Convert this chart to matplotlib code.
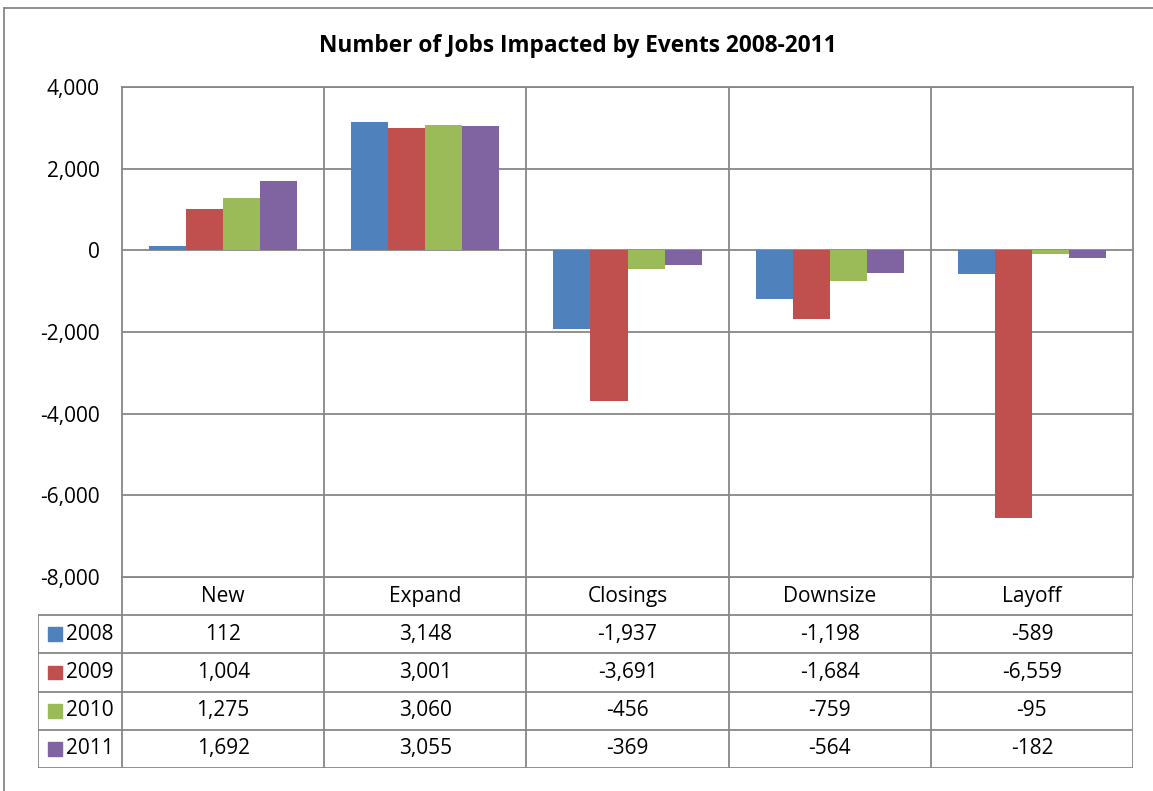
import matplotlib.pyplot as plt
from matplotlib.patches import Rectangle
from matplotlib.lines import Line2D

categories = ['New', 'Expand', 'Closings', 'Downsize', 'Layoff']
years = ['2008', '2009', '2010', '2011']
v2008 = [112, 3148, -1937, -1198, -589]
v2009 = [1004, 3001, -3691, -1684, -6559]
v2010 = [1275, 3060, -456, -759, -95]
v2011 = [1692, 3055, -369, -564, -182]
series = [v2008, v2009, v2010, v2011]
colors = ['#4F81BD', '#C0504D', '#9BBB59', '#8064A2']
grid_c = '#878787'

plt.rcParams['font.family'] = ['Open Sans', 'DejaVu Sans']

W, H = 1153, 791
fig = plt.figure(figsize=(W / 100, H / 100), dpi=100)

def px_axes(x0, y0, x1, y1):
    return fig.add_axes([x0 / W, 1 - y1 / H, (x1 - x0) / W, (y1 - y0) / H])

fs = 15

# main chart
ax = px_axes(122, 87, 1133, 577)
bw = 0.183
for j, vals in enumerate(series):
    xs = [i + 0.5 + (j - 1.5) * bw for i in range(len(categories))]
    ax.bar(xs, vals, width=bw, color=colors[j], zorder=3)
ax.set_xlim(0, 5)
ax.set_ylim(-8000, 4000)
ax.set_yticks(range(-8000, 4001, 2000))
ax.set_yticklabels([f'{t:,}' for t in range(-8000, 4001, 2000)], fontsize=fs)
ax.set_xticks([])
ax.tick_params(axis='y', length=0, pad=16)
for y in range(-6000, 4001, 2000):
    ax.axhline(y, color=grid_c, lw=1.3, zorder=1)
for x in range(1, 5):
    ax.axvline(x, color=grid_c, lw=1.3, zorder=1)
for s in ax.spines.values():
    s.set_color(grid_c)
    s.set_linewidth(1.3)
fig.text(578 / W, 1 - 46 / H, 'Number of Jobs Impacted by Events 2008-2011',
         ha='center', va='center', fontsize=16.3, fontweight='bold')

# data table
tax = px_axes(38, 577, 1133, 768)
first = 84 / 202
tax.set_xlim(-first, 5)
tax.set_ylim(5, 0)
tax.axis('off')
lk = dict(color=grid_c, lw=1.3, solid_capstyle='projecting')
tax.plot([0, 5], [0, 0], **lk)
for r in range(1, 6):
    tax.plot([-first, 5], [r, r], **lk)
for c in range(0, 6):
    tax.plot([c, c], [0, 5], **lk)
tax.plot([-first, -first], [1, 5], **lk)
for i, cat in enumerate(categories):
    tax.text(i + 0.5, 0.5, cat, ha='center', va='center', fontsize=fs)
for j, vals in enumerate(series):
    tax.add_patch(Rectangle((-first + 0.05, j + 1.32), 0.07, 0.36,
                            color=colors[j], transform=tax.transData))
    tax.text(-first + 0.14, j + 1.5, years[j], ha='left', va='center', fontsize=fs)
    for i, v in enumerate(vals):
        tax.text(i + 0.5, j + 1.5, f'{v:,}', ha='center', va='center', fontsize=fs)

# outer chart border (top and left visible)
fig.add_artist(Line2D([4 / W, 1], [1 - 8 / H, 1 - 8 / H], color=grid_c, lw=1.3))
fig.add_artist(Line2D([4 / W, 4 / W], [0, 1 - 8 / H], color=grid_c, lw=1.3))

fig.savefig('out.png', dpi=100)
